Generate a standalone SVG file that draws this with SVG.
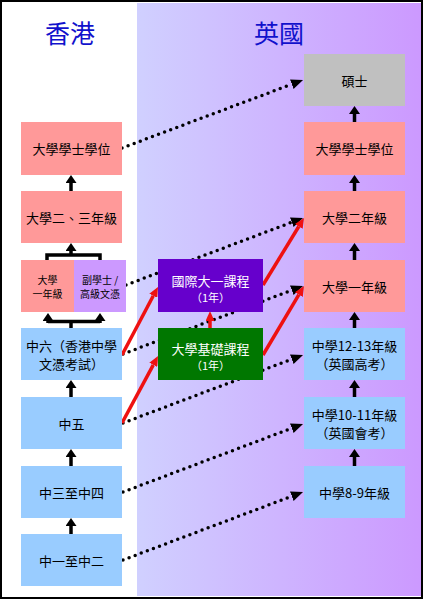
<svg xmlns="http://www.w3.org/2000/svg" width="424" height="600" viewBox="0 0 424 600">
<defs>
<linearGradient id="uk" x1="0" y1="0" x2="1" y2="0">
<stop offset="0" stop-color="#d0d0ff"/>
<stop offset="1" stop-color="#cc99ff"/>
</linearGradient>
<marker id="hb" viewBox="0 0 8 11" refX="0" refY="5.5" markerWidth="8" markerHeight="11" markerUnits="userSpaceOnUse" orient="auto"><path d="M0,0 L8,5.5 L0,11 z" fill="#000"/></marker>
<marker id="hd" viewBox="0 0 12 10" refX="0" refY="5" markerWidth="12" markerHeight="10" markerUnits="userSpaceOnUse" orient="auto"><path d="M0,0 L12,5 L0,10 z" fill="#000"/></marker>
<marker id="hr" viewBox="0 0 10 9" refX="0" refY="4.5" markerWidth="10" markerHeight="9" markerUnits="userSpaceOnUse" orient="auto"><path d="M0,0 L10,4.5 L0,9 z" fill="#ee1111"/></marker>
</defs>
<style>
text{font-family:"Noto Sans CJK TC","Noto Sans CJK SC",sans-serif;font-size:13px;fill:#000;text-anchor:middle;dominant-baseline:central}
.t{font-size:25px;fill:#1111cc}
.s{font-size:10px}
.w{fill:#fff}
.w2{fill:#fff;font-size:11px}
.pk{fill:#ff9999}
.bl{fill:#99ccff}
.pu{fill:#cc99ff}
.gr{fill:#c0c0c0}
.vi{fill:#6600cc}
.gn{fill:#007700}
.a{stroke:#000;stroke-width:3.5;fill:none;marker-end:url(#hb)}
.d{stroke:#000;stroke-width:3.5;fill:none;stroke-dasharray:0 6.5;stroke-linecap:round;marker-end:url(#hd)}
.r{stroke:#ee1111;stroke-width:3.5;fill:none;marker-end:url(#hr)}
.br{stroke:#000;stroke-width:3.5;fill:none}
</style>
<rect x="0" y="0" width="424" height="600" fill="#fff"/>
<rect x="137" y="3" width="284" height="593" fill="url(#uk)"/>
<rect x="1" y="1" width="421" height="597" fill="none" stroke="#000" stroke-width="2"/>
<text class="t" x="70" y="32">香港</text>
<text class="t" x="279" y="32">英國</text>

<g id="connectors">
<path class="d" d="M122,148 L291.8,84.2"/>
<path class="d" d="M126,285 L291.8,222.2"/>
<path class="d" d="M123,354 L291.8,290.2"/>
<path class="d" d="M123,423 L291.8,359.2"/>
<path class="d" d="M123,492 L291.8,428.2"/>
<path class="d" d="M123,560 L291.8,496.2"/>
<path class="r" d="M122,355 L153.3,295.8"/>
<path class="r" d="M122,423 L153.3,364.8"/>
<path class="r" d="M263,285 L298.8,226.5"/>
<path class="r" d="M263,355 L298.9,294.6"/>
<path class="r" d="M210,328 L210,321"/>
<path class="a" d="M71,191 L71,183"/>
<path class="a" d="M71,255 L71,251"/>
<path class="br" d="M47,260 L47,255 L100,255 L100,260"/>
<path class="br" d="M71,328 L71,321.5"/>
<path class="br" d="M48,321.5 L100,321.5"/>
<path class="a" d="M48,323 L48,321"/>
<path class="a" d="M100,323 L100,321"/>
<path class="a" d="M71,397 L71,388"/>
<path class="a" d="M71,466 L71,457"/>
<path class="a" d="M71,534 L71,526"/>
<path class="a" d="M354.5,122 L354.5,114"/>
<path class="a" d="M354.5,191 L354.5,183"/>
<path class="a" d="M354.5,260 L354.5,251"/>
<path class="a" d="M354.5,328 L354.5,320"/>
<path class="a" d="M354.5,397 L354.5,388"/>
<path class="a" d="M354.5,466 L354.5,457"/>
</g>

<g id="hk-degree"><rect class="pk" x="21" y="122" width="101" height="53"/><text x="71.5" y="148.5">大學學士學位</text></g>
<g id="hk-y23"><rect class="pk" x="21" y="191" width="101" height="52"/><text x="71.5" y="217">大學二、三年級</text></g>
<g id="hk-y1"><rect class="pk" x="21" y="260" width="53" height="52"/><text class="s" x="47.5" y="279">大學</text><text class="s" x="47.5" y="293">一年級</text></g>
<g id="hk-assoc"><rect class="pu" x="74" y="260" width="52" height="52"/><text class="s" x="100" y="279">副學士 /</text><text class="s" x="100" y="293">高級文憑</text></g>
<g id="hk-f6"><rect class="bl" x="21" y="328" width="101" height="52"/><text x="71.5" y="345">中六（香港中學</text><text x="71.5" y="363">文憑考試）</text></g>
<g id="hk-f5"><rect class="bl" x="21" y="397" width="101" height="52"/><text x="71.5" y="423">中五</text></g>
<g id="hk-f34"><rect class="bl" x="21" y="466" width="101" height="52"/><text x="71.5" y="492">中三至中四</text></g>
<g id="hk-f12"><rect class="bl" x="21" y="534" width="101" height="52"/><text x="71.5" y="560">中一至中二</text></g>

<g id="intl-y1"><rect class="vi" x="158" y="259" width="105" height="53"/><text class="w" x="210.5" y="280">國際大一課程</text><text class="w2" x="210.5" y="297">（1年）</text></g>
<g id="foundation"><rect class="gn" x="158" y="328" width="105" height="52"/><text class="w" x="210.5" y="348">大學基礎課程</text><text class="w2" x="210.5" y="365">（1年）</text></g>

<g id="uk-master"><rect class="gr" x="304" y="54" width="101" height="52"/><text x="354.5" y="80">碩士</text></g>
<g id="uk-degree"><rect class="pk" x="304" y="122" width="101" height="53"/><text x="354.5" y="148.5">大學學士學位</text></g>
<g id="uk-y2"><rect class="pk" x="304" y="191" width="101" height="52"/><text x="354.5" y="217">大學二年級</text></g>
<g id="uk-y1"><rect class="pk" x="304" y="260" width="101" height="52"/><text x="354.5" y="286">大學一年級</text></g>
<g id="uk-alevel"><rect class="bl" x="304" y="328" width="101" height="52"/><text x="354.5" y="345">中學12-13年級</text><text x="354.5" y="363">（英國高考）</text></g>
<g id="uk-gcse"><rect class="bl" x="304" y="397" width="101" height="52"/><text x="354.5" y="414">中學10-11年級</text><text x="354.5" y="432">（英國會考）</text></g>
<g id="uk-y89"><rect class="bl" x="304" y="466" width="101" height="52"/><text x="354.5" y="492">中學8-9年級</text></g>
</svg>
